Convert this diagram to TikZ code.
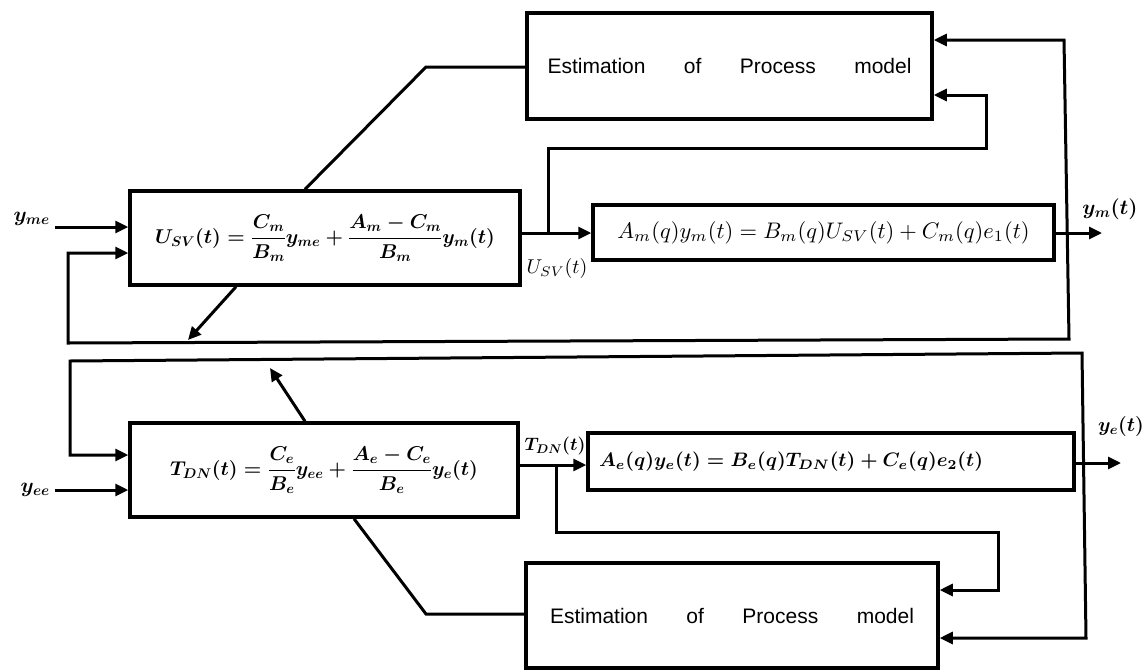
\RequirePackage{fix-cm}
\documentclass[tikz,border=0pt]{standalone}
\usepackage{amsmath}
\usepackage{bm}
\usepackage{fontspec}
\setsansfont{Liberation Sans}
\usetikzlibrary{arrows.meta,calc}
\begin{document}
\begin{tikzpicture}[x=1pt,y=-1pt,
  blk/.style={draw, line width=3.5pt, rectangle, inner sep=0pt},
  con/.style={line width=3pt},
  arr/.style={line width=3pt, -{Triangle[length=13pt,width=12pt]}},
  arrb/.style={line width=3pt, {Triangle[length=13pt,width=12pt]}-{Triangle[length=13pt,width=12pt]}},
  beq/.style={font=\fontsize{20}{24}\selectfont\boldmath},
  estf/.style={font=\sffamily\fontsize{21}{25}\selectfont},
  lbl/.style={font=\fontsize{21}{25}\selectfont\boldmath, inner sep=0pt},
  slbl/.style={inner sep=0pt}]
\useasboundingbox (0,0) rectangle (1146,670);

% ---------- blocks ----------
\node[blk, minimum width=390pt, minimum height=94pt, beq] (usv) at (325,238)
  {$\displaystyle U_{SV}(t)=\frac{C_m}{B_m}y_{me}+\frac{A_m-C_m}{B_m}y_m(t)$};
\node[blk, minimum width=461pt, minimum height=55pt] (mod1) at (823.5,232.5)
  {\scalebox{2.25}{$A_m(q)y_m(t)=B_m(q)U_{SV}(t)+C_m(q)e_1(t)$}};
\node[blk, minimum width=405pt, minimum height=106pt, estf] (est1) at (729.5,66)
  {\makebox[364pt][s]{Estimation of Process model}};
\node[blk, minimum width=388pt, minimum height=94pt, beq] (tdn) at (324,470)
  {$\displaystyle T_{DN}(t)=\frac{C_e}{B_e}y_{ee}+\frac{A_e-C_e}{B_e}y_e(t)$};
\node[blk, minimum width=486pt, minimum height=57pt, font=\boldmath] (mod2) at (831,461.5)
  {\makebox[464pt][l]{\scalebox{1.95}{$A_e(q)y_e(t)=B_e(q)T_{DN}(t)+C_e(q)e_2(t)$}}};
\node[blk, minimum width=412pt, minimum height=105pt, estf] (est2) at (732,615.5)
  {\makebox[364pt][s]{Estimation of Process model}};

% ---------- upper loop ----------
\coordinate (yme) at (55,227);
\node[lbl, anchor=east] (ymel) at (50,219) {$y_{me}$};
\draw[arr] (yme) -- (yme -| usv.west);

\coordinate (fa) at (1064,40);
\coordinate (fb) at (1069,339);
\coordinate (fc) at (68,343);
\coordinate (fd) at (68,253);
\draw[arrb] (fa -| est1.east) -- (fa) -- (fb) -- (fc) -- (fd) -- (fd -| usv.west);

\coordinate (j1) at (548,233);
\draw[arr] (usv.east |- j1) -- (mod1.west |- j1);
\coordinate (ba) at (548,148);
\coordinate (bb) at (986,148);
\coordinate (bc) at (986,95);
\draw[arr] (j1) -- (ba) -- (bb) -- (bc) -- (bc -| est1.east);
\node[slbl] (usvl) at (557,268) {\scalebox{2.0}{$U_{SV}(t)$}};

\coordinate (ym) at (1102,233);
\draw[arr] (mod1.east |- ym) -- (ym);
\node[lbl] (yml) at (1110,209) {$y_m(t)$};

\coordinate (k1) at (426,67);
\coordinate (d1) at (305,0);
\draw[con] (est1.west |- k1) -- (k1) -- (usv.north -| d1);

\coordinate (da) at (236,0);
\coordinate (dt) at (188,340);
\draw[arr] (usv.south -| da) -- (dt);

% ---------- lower loop ----------
\coordinate (ga) at (1086,638);
\coordinate (gb) at (1082,353);
\coordinate (gc) at (70,361);
\coordinate (gd) at (70,455);
\draw[arrb] (ga -| est2.east) -- (ga) -- (gb) -- (gc) -- (gd) -- (gd -| tdn.west);

\coordinate (yee) at (55,490);
\node[lbl, anchor=east] (yeel) at (50,490) {$y_{ee}$};
\draw[arr] (yee) -- (yee -| tdn.west);

\coordinate (j2) at (556,465);
\draw[arr] (tdn.east |- j2) -- (mod2.west |- j2);
\coordinate (ca) at (556,532);
\coordinate (cb) at (998,532);
\coordinate (cc) at (998,590);
\draw[arr] (j2) -- (ca) -- (cb) -- (cc) -- (cc -| est2.east);
\node[lbl, font=\fontsize{18}{22}\selectfont\boldmath] (tdnl) at (555,446) {$T_{DN}(t)$};

\coordinate (ye) at (1121,463);
\draw[arr] (mod2.east |- ye) -- (ye);
\node[lbl, font=\fontsize{20}{24}\selectfont\boldmath] (yel) at (1121,426) {$y_e(t)$};

\coordinate (k2) at (426,614);
\coordinate (d2) at (354,0);
\draw[con] (est2.west |- k2) -- (k2) -- (tdn.south -| d2);

\coordinate (ua) at (305,0);
\coordinate (ut) at (270,368);
\draw[arr] (tdn.north -| ua) -- (ut);
\end{tikzpicture}
\end{document}
